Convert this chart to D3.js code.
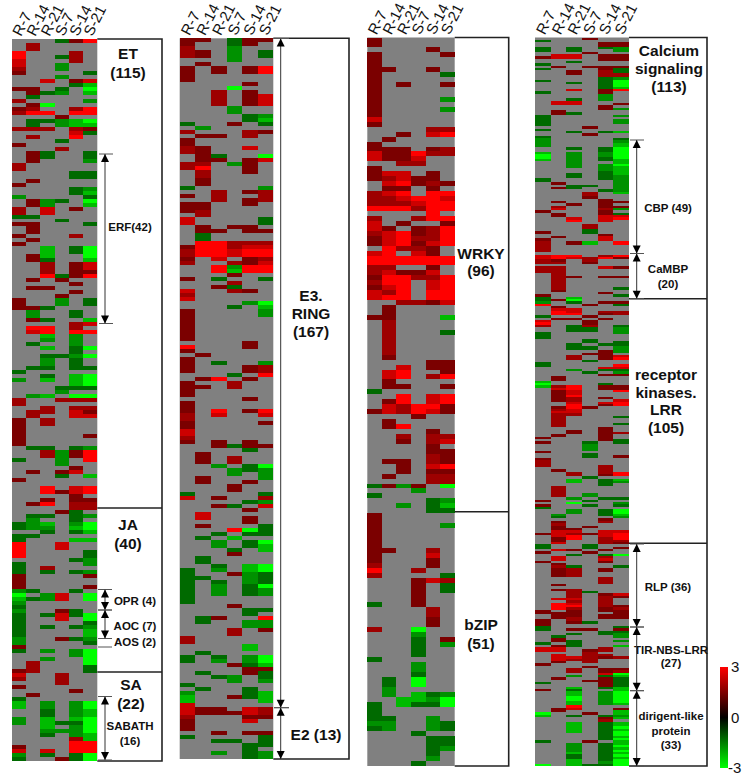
<!DOCTYPE html>
<html>
  <head>
    <meta charset="utf-8">
    <title>Expression heat maps</title>
    <style>
      body { margin: 0; background: #fff; }
      svg text { font-family: "Liberation Sans", Arial, sans-serif; fill: #111; }
      text.big { font-size: 15.5px; font-weight: bold; text-anchor: middle; }
      text.small { font-size: 11.5px; font-weight: bold; text-anchor: middle; }
      text.col { font-size: 15px; }
      text.key { font-size: 15px; }
    </style>
  </head>
  <body>
    <svg id="chart" width="748" height="782"></svg>

    <script src="https://cdnjs.cloudflare.com/ajax/libs/d3/7.8.5/d3.min.js"></script>
    <script>
      var columns = ["R-7", "R-14", "R-21", "S-7", "S-14", "S-21"];

      // one letter per cell: . missing, 1-4 reds, a-d greens
      var levelChars = ["1", "2", "3", "4", "a", "b", "c", "d"];
      var levelValues = [1.45, 1.85, 2.4, 3, -1.25, -1.7, -2.2, -3];

      var rowsA = [
        "...a14",".2....",".2....","4...2.","4..a2.","3...2.","3..b..","2..b..","1....a","...b..",
        "..3.13","....ac","11.a.d",".1ab.c",".a....","2....b",".1d...","12..24","244.44","...1..",
        ".aabcd",".a.bcc","222.21","....3a",".2..4.","...a..","1.....","...2..",".1a..a",".1a..a",
        ".1...b","2.....","2.....","....aa","....aa",".1....","1.....","....ab","....ac","b....a",
        ".1ba.d",".1b..c","2.3.1.","2.3...","aa....","...a..","11...a",".1....",".1....","1...2.",
        ".1....","1.....","..c.ad","..c.ad",".1c..d",".1a..c","..2.13","..2.13","..2.11","..4a14",
        ".1.1..","....1.",".11...","....1.","...1..","1..b.a","1..b.a","11a...",".b..a.",".b..a.",
        ".1a..c","....23",".44.2.",".34.44","..c.b.","..b.b.",".a..b.","..c.ad","....a.","..aabd",
        "..b.a.","..b.a.",".aa.aa","a.....","..a.cd","b.c.cd","....cd","...aaa","...b..",".bc.dd",
        "2..222","2.....","..2.22",".22.31",".2..33","1.2...","1.2...","1.....","1.....","1....1",
        "1.....","1.....",".aa.ab","..2b14","..2b14","a..b.4","...b..","....1.",".1.13.","...a.c",
        "1.....","......","..4.34","..4134","....1.","..1.11",".14.22","....22","...1a.",".aa.ab",
        ".b..a.","abc.bd","abb.cd","..a.ac","aa....","a...cc","4..3..","4..3..","4....a","4....a",
        "....ab","a....b","a.2...","a.a.ab","1....1","1.....","1.....","1....1","ba..a.","d.b3.d",
        "cab3.d","b.....","a.....","b..1a.","a.a3ad","a..3.d","a....a","a.a.ab","a....c","a....c",
        "b..1ab","b....a","1.....","a.b.bd","....bd","..b..d",".2...d",".2...a","12...a","3..2..",
        "2..2..","...2..","1.....","....1.",".1....","a.....","c.b.bd","c.b.bd","..a.bc","..a.bc",
        "b.c.cd","b.caad","..c.bd","..bbbd","..a.bc","....2c","....44","1...44","3.3.44","b.a.ad",
        "a..1ad"
      ];

      var rowsB = [
        "11.a11","1..a1.","2..b..","21.b.a","21.b.a","...b..",".1....","1.1.14","1.1.14","1.....",
        "1.....","....1.","...d..","..2.1.","..2.13","..2.13","..2.13","...b..","...b..","....ab",
        "....ac","a..1.a",".b....","2...21",".11.2.","1.....","1.....","21..3.","21....",".1a..d",
        ".11.13","22.b1.","24..1.",".2..1.",".2....",".1....",".1....","a....b","..2.12","1.2..2",
        "..2.12","11..1.","11....","12....",".2....","3....a","3....a",".1.11.",".11.11",".a....",
        ".a....",".44222","144233","244344","244344","1.3.12","2..213","..4b44","..4c44","...1..",
        "1.a..a","...2..","..1a..","3..21.","2.....","3.....","....bd","...a.c","1....b","1....b",
        "1.....","1.....","1.....","1.....","1.....","1.....","....1.","4...1.","1.....",".1....",
        "1.....","1.a..b","1...12","1...12","...a.4",".14.1.","1..2..","11.2..","1.....","1.....",
        "....1.","1.....","1.....","1.4.14","2.3..3","2.....","1....1","1.....","3.....","3.....",
        "2.....","1.1.1.","..1a11","....a.",".1....",".1.2..",".1.2..","..b.ad","...bab","...b.b",
        ".1...b",".1..1.","...1..","...1..","a....a","3.1..2","....ab","..1a.3","....1.",".3....",
        ".3..1.","....1.",".1...a","...4da","..a.aa",".a.c..","..b.ad","..b.ac","...a.c","...1..",
        ".a....",".a....","..a.cd","a.b.cd","a..1ba","aa..ba","a.a.ba","a.b.ad","a.b.ab","a.b.ab",
        "a.....","a.....","...1..","....aa","....a.",".a1..4",".a..bb","....bb","...2.1","...2..",
        "2.....","2.....","....c.","....c.",".a....","a.a.bd","a.b.bd","...1ac","....11",".a..1a",
        "..ab.a","...b.b","a.....",".a..a.","b...ac","c..1ac","c....c","3.....","311.32","311132",
        "2...11","1...3.","1.....","1.....","..1.11","a....a","..aa.a","....aa","....a.","..b.ab",
        "....ab"
      ];

      var rowsC = [
        "1.....","1.....","....1.","1....1","1.....","1.....","11..1.","1....a","1.....","1.1..1",
        "1.....","1.....","1....b","1.....","1....b","1.....","3.....","1.....","....22","..1.34",
        ".1....","1.....","111.12","311422","3113..","..22..","1.....","133.1.","12311.",".34121",
        ".11.1.","234.44","223443","222344","444244","....4.","2..244","3.1..1","31.124","234124",
        "134224","134134",".4221.","34.31.","444444","444444","22..1.","23113.","144224","244.34",
        "134.34","324.44","344.44","..2213",".1....",".1....","11...c",".2....",".2....",".2...a",
        ".2....",".2....",".2....",".2....",".1....","....11","..3.11",".34..1",".34.24",".1....",
        ".11..1","a.....","..4.34",".14.34",".32441","132431","...1..",".1....",".14...","....1.",
        "..2.22","..1.23","....1.","....11","....21",".11.21","..1.34","..1.11",".1..22","....22",
        "a1b1.d","...b..","a.....","....ab","..b.ac","....aa","1.....","1.....","1....b","1.....",
        "1.....","1.....","1.....","11..2.","1...3.","1...1.","2...1.","4..2..","2....a","...132",
        "...1.a","...1.a","...1..","...1..","a..1..","....2.","....2.","....1.","....1.","2..d..",
        "...b..","...a.1","...a.b","...a..","...a..","a.....","...b..","...b..","...a..",".a.d..",
        ".a.d..",".b....",".b.cab","..ccbd","a.caad","a.....","a.....","aa..b.","bb..ba","ab..ba",
        "...a..","....aa","....aa","....ab","....a.","....b.","...a.."
      ];

      var rowsD = [
        "...1..","a.....","....11","....11","a.a.ab","a.a..b","...1..",".33.11","133.11","....11",
        "..a...","a.....",".1.111","a...1a","..1.2a","..1.22","....22","....ab","a...ad","..a.ad",
        "....ad","....ac","..3.14","a...1.","....b.","....b.","..a.b.",".33...",".33..1","....1.",
        "....1b",".1....",".1a...","a....b","a.....","a....b","a....b","a.....","...1..","a.....",
        "..a.ac","...1..","a.....","b....a","b....b","b....c","b....c","..a.ad","....ad","c.b.bd",
        "d.b.bd","d.b.ad","c.b.ac","..b..c","..b.bd","..b.bc","....bc","....ac","..a.ac","..a.ab",
        "a...ab","a....b",".1...b","..aa.b",".1a..b","....ab","...2.c","...2..","...1..","....1.",
        ".1..11","..1.1.",".2..11",".3..2b","1...1.",".1..1a",".1..33","..3.34","..4.3.","......",
        "...2..","...2..","...a..","1..a..","....1.",".1..3.","1...3.","2.1c.4","2.1c.4","2.....",
        "2.....","2.....","......","344.24","343241","21.2..","22.1..","......","22..31","22....",
        "22....",".2....",".21.11",".2....",".2....",".2....",".2....",".2...a",".1....","....1.",
        "1....a","a.c...","a1d...","b.a.11","4..1.a",".1....",".33...",".43.22",".44.12","a..1..",
        ".11.1.","3..1..","4..1..","2.a2.a","..aa.b","..aa.b","a....b","a.....","a.....","...a..",
        "...a.a","..a.aa","..aa.b","..aa.b","....1b","...11.","..2.13","..2.14","...a..","a.....",
        "a....4","....33","..b.aa","...a.b","....11",".1....",".1....","c.....","d...a.","c24.11",
        ".34.11",".13..4",".13...",".14...",".12.1.",".12..3","..3.34","..4.14",".141..",".23...",
        ".33...",".22...",".2...a",".2....",".2....",".2...a",".2....","....1.","..1.1.","..1.12",
        ".1..1.","1...1.","....1a","1..a.a","...b..","...b..","...b..","1.....","...a..","...a.1",
        "1.....","2.....","2.....","2...2.","....2.",".1..2.","..2.24","..2.14","...a..","..c.ac",
        "..c.ab","....a.",".2....",".2....",".2....",".2.b..",".2.b..","..b.aa","1..a..","..d..b",
        "1..a.a","a.....","..b.ad","..b.ad",".b..ac",".a...b","....1.",".1..2.",".2....",".1.1..",
        ".11...",".33.33","132134",".34.34",".14.24",".1..22",".3..21","a..a..","a..a.1",".31.1.",
        "1..1..","..a.ad",".3..2.",".3..3.","1...1.",".1....",".2a..a",".12.1.",".12.1.",".12...",
        ".12...","....2.","....2.","....2.",".1....","......",".12...","..2a..","..2.13","..2.21",
        ".33.2.","..2.2.",".43.2.",".44.21",".42.12","1.1.11","111..1",".11.11",".12.11","1.2...",
        "1.1a..","1.....","a....a","a.11.1","....aa","..a.ab",".a...b",".1....",".1a..b","a.a...",
        ".1a..c","33..2.","33.12.","...2..",".3.22.",".33212",".322..",".1.2..","1.....","...1..",
        "..2.11","..2.12","....3d","..b.ac",".1..1a","...11a","a...1a","....1a","..c.ac","1.a..c",
        "..c.bd","..c.bd","..d.bd","..d.bd","..c.bd","..c.bc","..4...",".13..1",".1...c","d..1.c",
        "c.a.ab","....1c","....2.","..c.ac","..c.ac","..c.ad","..c.ac","..c.ad","....ad","....ac",
        "....ad","a..1.c","..b.ac","..b.ad","..b.ac","..b.ad","..c.ac","..a.ad","..a.ac","..c.ad",
        "..c.bd","d.caad"
      ];

      var keyTicks = [3, 0, -3];

      var svg = d3.select("#chart");
      var color = d3.scaleLinear().domain([-3, 0, 3]).range(["#00ff00", "#000000", "#ff0000"]);

      function cellValue(ch) {
        var i = levelChars.indexOf(ch);
        return i < 0 ? null : levelValues[i];
      }

      // x0,x1 heat map, y0,y1 heat map, boxRight right edge of the white label box
      function drawHeat(rows, x0, x1, y0, y1, boxRight, dividers) {
        var g = svg.append("g");
        var x = d3.scaleBand().domain(columns).range([x0, x1]);
        var y = d3.scaleBand().domain(d3.range(rows.length)).range([y0, y1]);

        g.append("rect").attr("x", x0).attr("y", y0).attr("width", x1 - x0).attr("height", y1 - y0).attr("fill", "#808080");

        rows.forEach(function(row, r) {
          g.selectAll(null)
            .data(columns.map(function(c, i) { return {col: c, v: cellValue(row[i])}; }).filter(function(d) { return d.v !== null; }))
            .enter()
            .append("rect")
            .attr("x", function(d) { return x(d.col); })
            .attr("y", y(r))
            .attr("width", x.bandwidth())
            .attr("height", y.bandwidth())
            .attr("shape-rendering", "crispEdges")
            .attr("fill", function(d) { return color(d.v); });
        });

        // column names
        g.selectAll("text.col")
          .data(columns)
          .enter()
          .append("text")
          .attr("class", "col")
          .attr("transform", function(d) { return "translate(" + (x(d) + x.bandwidth() / 2 + 2) + "," + (y0 - 2) + ") rotate(-63)"; })
          .text(function(d) { return d; });

        // box around the labels
        g.append("path")
          .attr("d", "M" + x1 + "," + y0 + "H" + boxRight + "V" + y1 + "H" + x1)
          .attr("fill", "none")
          .attr("stroke", "#222")
          .attr("stroke-width", 1.6);
        dividers.forEach(function(d) {
          g.append("line").attr("x1", x1).attr("x2", boxRight).attr("y1", d).attr("y2", d)
            .attr("stroke", "#222").attr("stroke-width", 1.6);
        });
      }

      function label(cls, cx, lines) {
        lines.forEach(function(l) {
          svg.append("text").attr("class", cls).attr("x", cx).attr("y", l[1]).text(l[0]);
        });
      }

      // vertical double headed arrow with small ticks at both ends
      function bracket(x, y0, y1, tickLeft, tickRight) {
        var g = svg.append("g");
        g.append("line").attr("x1", x).attr("x2", x).attr("y1", y0).attr("y2", y1).attr("stroke", "#333").attr("stroke-width", 1);
        [y0, y1].forEach(function(y) {
          g.append("line").attr("x1", tickLeft).attr("x2", tickRight).attr("y1", y).attr("y2", y).attr("stroke", "#555").attr("stroke-width", 1);
        });
        g.append("path").attr("d", "M" + x + "," + y0 + "l-4,8h8z").attr("fill", "#000");
        g.append("path").attr("d", "M" + x + "," + y1 + "l-4,-8h8z").attr("fill", "#000");
      }

      drawHeat(rowsA, 12, 97.3, 39, 761, 162, [508, 672]);
      drawHeat(rowsB, 179.7, 273.3, 38.3, 759, 349, []);
      drawHeat(rowsC, 367.3, 454.7, 37.5, 766, 508.7, [511.7]);
      drawHeat(rowsD, 535, 629, 37.5, 766, 707, [298.7, 543.3]);

      // first panel
      label("big", 128, [["ET", 59], ["(115)", 78], ["JA", 530], ["(40)", 549]]);
      label("big", 131, [["SA", 690], ["(22)", 709]]);
      label("small", 130, [["ERF(42)", 231], ["SABATH", 730], ["(16)", 745]]);
      label("small", 135, [["OPR (4)", 605], ["AOC (7)", 630], ["AOS (2)", 646]]);
      bracket(105, 154, 323.5, 99, 113);
      bracket(105, 589.5, 610, 98, 112);
      bracket(105, 610, 638.5, 98, 112);
      svg.append("line").attr("x1", 98).attr("x2", 112).attr("y1", 647).attr("y2", 647).attr("stroke", "#555");
      bracket(105, 696.5, 760, 98, 112);

      // second panel
      label("big", 311, [["E3.", 301], ["RING", 319], ["(167)", 337]]);
      label("big", 316, [["E2 (13)", 740]]);
      bracket(280.7, 38.5, 707.7, 274, 289);
      bracket(280.7, 707.7, 759, 274, 289);

      // third panel
      label("big", 481, [["WRKY", 259], ["(96)", 276], ["bZIP", 630], ["(51)", 649]]);

      // fourth panel
      label("big", 669, [["Calcium", 56], ["signaling", 74], ["(113)", 92]]);
      label("big", 666, [["receptor", 380], ["kinases.", 398], ["LRR", 415], ["(105)", 433]]);
      label("small", 668, [["CBP (49)", 212], ["CaMBP", 273], ["(20)", 288], ["RLP (36)", 591]]);
      label("small", 671, [["TIR-NBS-LRR", 654], ["(27)", 667], ["dirigent-like", 720], ["protein", 735], ["(33)", 749]]);
      bracket(636.7, 140, 253.5, 630, 644);
      bracket(636.7, 253.5, 298.7, 630, 644);
      bracket(636.7, 544, 627, 630, 644);
      bracket(636.7, 627, 690.7, 630, 644);
      bracket(636.7, 690.7, 766, 630, 644);

      // colour key
      var defs = svg.append("defs");
      var grad = defs.append("linearGradient").attr("id", "keyGrad").attr("x1", 0).attr("x2", 0).attr("y1", 0).attr("y2", 1);
      keyTicks.forEach(function(t, i) {
        grad.append("stop").attr("offset", i / (keyTicks.length - 1)).attr("stop-color", color(t));
      });
      var keyY = d3.scaleLinear().domain([3, -3]).range([667, 768]);
      svg.append("rect").attr("x", 720).attr("y", keyY(3)).attr("width", 8).attr("height", keyY(-3) - keyY(3)).attr("fill", "url(#keyGrad)");
      svg.selectAll("text.key")
        .data(keyTicks)
        .enter()
        .append("text")
        .attr("class", "key")
        .attr("x", function(d) { return d < 0 ? 728 : 731; })
        .attr("y", function(d) { return keyY(d) + 5; })
        .text(function(d) { return d; });
    </script>
  </body>
</html>
